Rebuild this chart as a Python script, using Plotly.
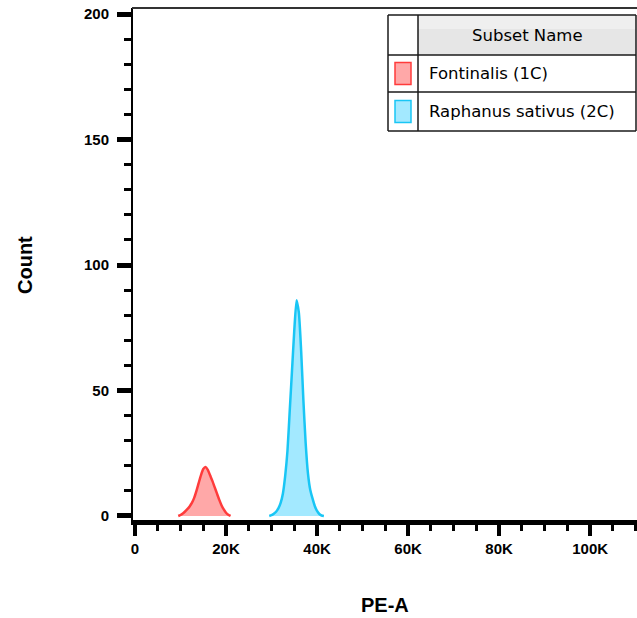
import plotly.graph_objects as go

# ---- data ----
red_x = [9500, 10000, 10500, 11000, 11500, 12000, 12500, 13000, 13500, 14000, 14500,
         15000, 15500, 16000, 16500, 17000, 17500, 18000, 18500, 19000, 19500, 20000,
         20500, 21000]
red_y = [0, 0.4, 1.0, 1.8, 2.7, 3.8, 5.2, 7.2, 10.0, 13.2, 16.3,
         18.7, 19.5, 18.4, 16.2, 14.0, 11.5, 9.0, 6.5, 4.3, 2.6, 1.3,
         0.5, 0]
blue_x = [29500, 30000, 30500, 31000, 31500, 32000, 32500, 33000, 33500, 34000, 34500,
          35000, 35500, 36000, 36500, 37000, 37500, 38000, 38500, 39000, 39500, 40000,
          40500, 41000, 41500]
blue_y = [0, 0.3, 0.9, 1.7, 3.0, 5.2, 9.0, 16.0, 26.0, 42.0, 58.0,
          74.0, 86.0, 81.0, 66.0, 46.0, 29.0, 17.0, 10.5, 7.0, 4.0, 2.0,
          0.8, 0.2, 0]
subset_names = ["Fontinalis (1C)", "Raphanus sativus (2C)"]
x_tickvals = [0, 20000, 40000, 60000, 80000, 100000]
x_ticktext = ["0", "20K", "40K", "60K", "80K", "100K"]
y_tickvals = [0, 50, 100, 150, 200]
y_ticktext = ["0", "50", "100", "150", "200"]

RED_LINE = "#ff3b3b"
RED_FILL = "#ffa8a8"
BLUE_LINE = "#19c6f5"
BLUE_FILL = "#a3e9ff"

W, H = 637, 618
ML, MR, MT, MB = 133, 0, 8, 98
PW = W - ML - MR
PH = H - MT - MB


def px(x):
    return (x - ML) / PW


def py(y):
    return (H - MB - y) / PH


fig = go.Figure()
fig.add_trace(go.Scatter(x=red_x, y=red_y, mode="lines", fill="tozeroy",
                         line=dict(color=RED_LINE, width=2.5, shape="spline", smoothing=0.6),
                         fillcolor=RED_FILL, name=subset_names[0], showlegend=False,
                         hoverinfo="skip"))
fig.add_trace(go.Scatter(x=blue_x, y=blue_y, mode="lines", fill="tozeroy",
                         line=dict(color=BLUE_LINE, width=2.5, shape="spline", smoothing=0.6),
                         fillcolor=BLUE_FILL, name=subset_names[1], showlegend=False,
                         hoverinfo="skip"))

tickfont = dict(family="Liberation Sans", size=15, color="black", weight="bold")

fig.update_xaxes(range=[-440, 110300], showgrid=False, zeroline=False,
                 showline=True, linewidth=5, linecolor="black",
                 ticks="outside", ticklen=11, tickwidth=4, tickcolor="black",
                 tickvals=x_tickvals, ticktext=x_ticktext, tickfont=tickfont,
                 minor=dict(dtick=5000, tick0=0, ticks="outside", ticklen=6,
                            tickwidth=2.5, tickcolor="black", showgrid=False))
fig.update_yaxes(range=[-1.6, 202.4], showgrid=False, zeroline=False,
                 showline=True, linewidth=2, linecolor="black",
                 ticks="outside", ticklen=14, tickwidth=4.5, tickcolor="black",
                 tickvals=y_tickvals, ticktext=y_ticktext, tickfont=tickfont,
                 ticklabelstandoff=5,
                 minor=dict(dtick=10, tick0=0, ticks="outside", ticklen=7,
                            tickwidth=2.5, tickcolor="black", showgrid=False))

shapes = []
# top frame line
shapes.append(dict(type="line", xref="paper", yref="paper", x0=px(132), x1=px(637),
                   y0=py(8), y1=py(8), line=dict(color="#333333", width=2)))

# legend table
TL, TR, TC = 388, 636, 418
TT, TH, TR1, TB = 15, 55, 92, 131
shapes.append(dict(type="rect", xref="paper", yref="paper", x0=px(TL), x1=px(TR),
                   y0=py(TB), y1=py(TT), fillcolor="white", line=dict(width=0), layer="above"))
shapes.append(dict(type="rect", xref="paper", yref="paper", x0=px(TC), x1=px(TR),
                   y0=py(TH), y1=py(TT), fillcolor="#e6e6e6", line=dict(width=0), layer="above"))
shapes.append(dict(type="rect", xref="paper", yref="paper", x0=px(TC), x1=px(TR),
                   y0=py(TT + 14), y1=py(TT), fillcolor="#efefef", line=dict(width=0), layer="above"))
for (x0, x1, y0, y1) in [(TL, TR, TT, TT), (TL, TR, TH, TH), (TL, TR, TR1, TR1), (TL, TR, TB, TB),
                         (TL, TL, TT, TB), (TC, TC, TT, TB), (TR, TR, TT, TB)]:
    shapes.append(dict(type="line", xref="paper", yref="paper", x0=px(x0), x1=px(x1),
                       y0=py(y0), y1=py(y1), line=dict(color="#1a1a1a", width=1.5),
                       layer="above"))
# swatches
for (yc, fc, lc) in [((TH + TR1) / 2, RED_FILL, RED_LINE), ((TR1 + TB) / 2, BLUE_FILL, BLUE_LINE)]:
    shapes.append(dict(type="rect", xref="paper", yref="paper", x0=px(395), x1=px(411),
                       y0=py(yc + 11), y1=py(yc - 11), fillcolor=fc,
                       line=dict(color=lc, width=1.5), layer="above"))

fig.update_layout(shapes=shapes)

legfont = dict(family="DejaVu Sans", size=16.5, color="black")
annotations = [
    dict(text="Subset Name", xref="paper", yref="paper", x=px((TC + TR) / 2), y=py((TT + TH) / 2),
         showarrow=False, xanchor="center", yanchor="middle", font=legfont),
    dict(text=subset_names[0], xref="paper", yref="paper", x=px(427), y=py((TH + TR1) / 2),
         showarrow=False, xanchor="left", yanchor="middle", font=legfont),
    dict(text=subset_names[1], xref="paper", yref="paper", x=px(427), y=py((TR1 + TB) / 2),
         showarrow=False, xanchor="left", yanchor="middle", font=legfont),
    dict(text="PE-A", xref="paper", yref="paper", x=px(385), y=py(605),
         showarrow=False, xanchor="center", yanchor="middle",
         font=dict(family="Liberation Sans", size=20, color="black", weight="bold")),
    dict(text="Count", xref="paper", yref="paper", x=px(25), y=py(265), textangle=-90,
         showarrow=False, xanchor="center", yanchor="middle",
         font=dict(family="Liberation Sans", size=20, color="black", weight="bold")),
]
fig.update_layout(annotations=annotations)

fig.update_layout(width=W, height=H, margin=dict(l=ML, r=MR, t=MT, b=MB, pad=0),
                  paper_bgcolor="white", plot_bgcolor="white", showlegend=False)

fig.write_html("out.html", config={"displayModeBar": False},
               post_script="document.body.style.margin='0';document.body.style.padding='0';")
